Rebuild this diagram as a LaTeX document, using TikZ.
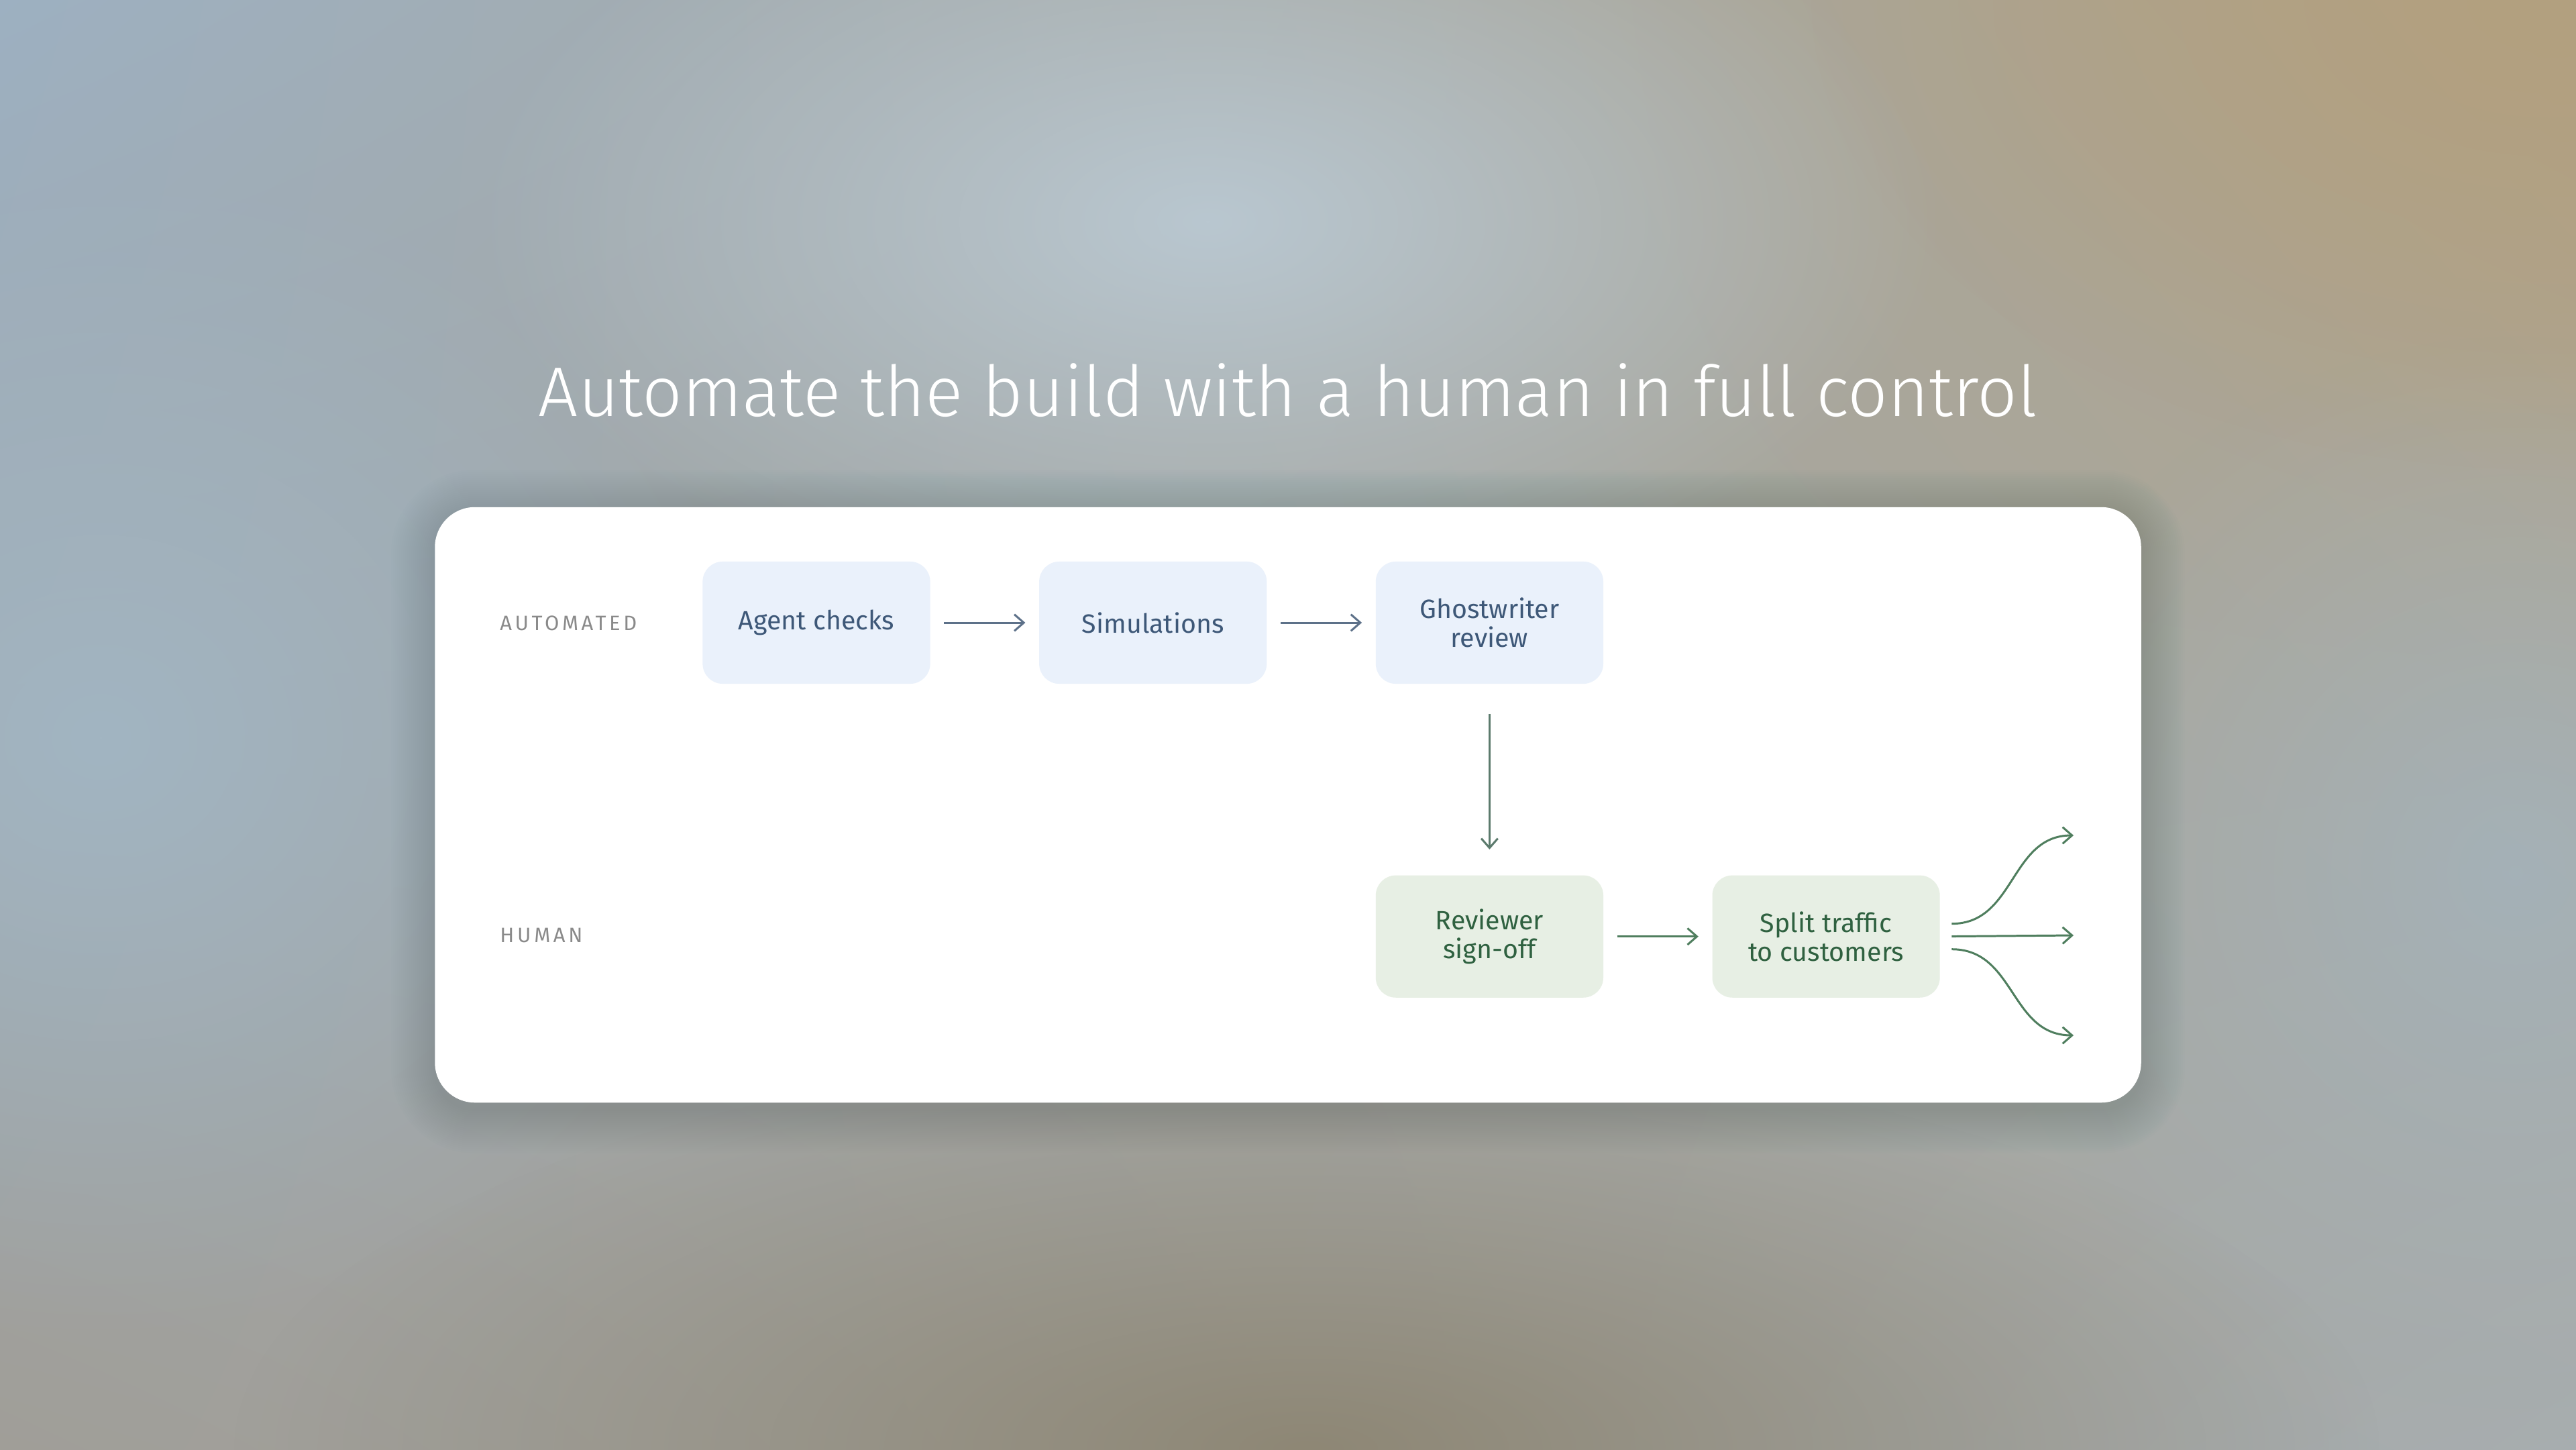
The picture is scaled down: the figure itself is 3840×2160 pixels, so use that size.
\documentclass[tikz,border=0pt]{standalone}
\usepackage{fontspec}
\setmainfont{Fira Sans}
\newfontfamily\titlefont{Fira Sans Light}
\newfontfamily\lanefont{Fira Sans}[LetterSpace=15]
\usetikzlibrary{arrows.meta, positioning, shadings, fadings}

\definecolor{bgUL}{HTML}{9DB0C1}
\definecolor{bgUR}{HTML}{B0A185}
\definecolor{bgLL}{HTML}{A09E98}
\definecolor{bgLR}{HTML}{A7ADAF}
\definecolor{bgLight}{HTML}{B9C7D0}
\definecolor{bgBlue}{HTML}{A2B5C2}
\definecolor{bgTan}{HTML}{B3A07F}
\definecolor{bgBrown}{HTML}{8E8775}
\definecolor{shadowcol}{HTML}{4A5C78}
\definecolor{autofill}{HTML}{EAF1FB}
\definecolor{autotext}{HTML}{3E5878}
\definecolor{autoline}{HTML}{5D7189}
\definecolor{humanfill}{HTML}{E7EFE4}
\definecolor{humantext}{HTML}{2F6140}
\definecolor{humanline}{HTML}{4F7E5E}
\definecolor{handoffline}{HTML}{5B7A6C}
\definecolor{lanegray}{HTML}{8A8A8A}

\tikzfading[name=softblob, inner color=transparent!0, outer color=transparent!100]

\begin{document}
\begin{tikzpicture}[
    x=0.01cm, y=-0.01cm,
    font=\fontsize{11.2pt}{12.4pt}\selectfont,
    card/.style={rectangle, fill=white, rounded corners=17pt, minimum width=25.42cm, minimum height=8.87cm, inner sep=0pt},
    autobox/.style={rectangle, fill=autofill, text=autotext, rounded corners=8.5pt, align=center, minimum width=3.39cm, minimum height=1.82cm, inner sep=0pt},
    humanbox/.style={autobox, fill=humanfill, text=humantext},
    lane/.style={anchor=west, text=lanegray, font=\lanefont\fontsize{8.8pt}{10pt}\selectfont},
    autoarrow/.style={-{Straight Barb[length=4pt, width=7pt]}, line width=0.85pt, draw=autoline, shorten <=0.2cm, shorten >=0.2cm},
    humanarrow/.style={autoarrow, draw=humanline}
]
\useasboundingbox (0,0) rectangle (3840,2160);

% Backdrop
\shade[upper left=bgUL, upper right=bgUR, lower left=bgLL, lower right=bgLR] (0,0) rectangle (3840,2160);
\fill[bgBlue, path fading=softblob] (150,1100) ellipse (1000 and 900);
\fill[bgBlue, path fading=softblob, opacity=0.7] (3750,1300) ellipse (800 and 800);
\fill[bgTan, path fading=softblob] (3800,0) ellipse (1100 and 700);
\fill[bgBrown, path fading=softblob] (1950,2160) ellipse (1600 and 600);
\fill[bgLight, path fading=softblob] (1800,330) ellipse (1100 and 600);

% Card with soft shadow
\foreach \s in {1,...,22}
  \fill[shadowcol, opacity=0.013, rounded corners=17pt+0.85pt*\s] (649-3*\s, 756-3*\s+10) rectangle (3191+3*\s, 1643+3*\s+10);
\node[card] (card) at (1920,1199.5) {};

% Title
\node[font=\titlefont\fontsize{29.8pt}{35pt}\selectfont, text=white, anchor=base] (title) at (1920,620) {Automate the build with a human in full control};

% Lanes
\node[lane] (autolane) at (733,929) {AUTOMATED};
\node[lane] (humanlane) at (733,1394) {HUMAN};

% Automated steps
\node[autobox] (agent) at (1217,928) {Agent checks};
\node[autobox, right=1.61cm of agent] (sims) {Simulations};
\node[autobox, right=1.61cm of sims] (ghost) {Ghostwriter\\review};

% Human steps
\node[humanbox, below=2.84cm of ghost] (signoff) {Reviewer\\sign-off};
\node[humanbox, right=1.61cm of signoff] (split) {Split traffic\\to customers};

% Traffic targets
\coordinate (out1) at (3091,1245);
\coordinate (out2) at (3091,1394);
\coordinate (out3) at (3091,1543);

% Arrows
\draw[autoarrow] (agent) -- (sims);
\draw[autoarrow] (sims) -- (ghost);
\draw[humanarrow, draw=handoffline, shorten <=0.44cm, shorten >=0.38cm] (ghost) -- (signoff);
\draw[humanarrow] (signoff) -- (split);

\draw[humanarrow, shorten <=0pt, shorten >=0pt] ([xshift=0.17cm, yshift=0.19cm]split.east) .. controls +(95,0) and +(-95,0) .. (out1);
\draw[humanarrow, shorten <=0.17cm, shorten >=0pt] (split.east) -- (out2);
\draw[humanarrow, shorten <=0pt, shorten >=0pt] ([xshift=0.17cm, yshift=-0.19cm]split.east) .. controls +(95,0) and +(-95,0) .. (out3);

\end{tikzpicture}
\end{document}
